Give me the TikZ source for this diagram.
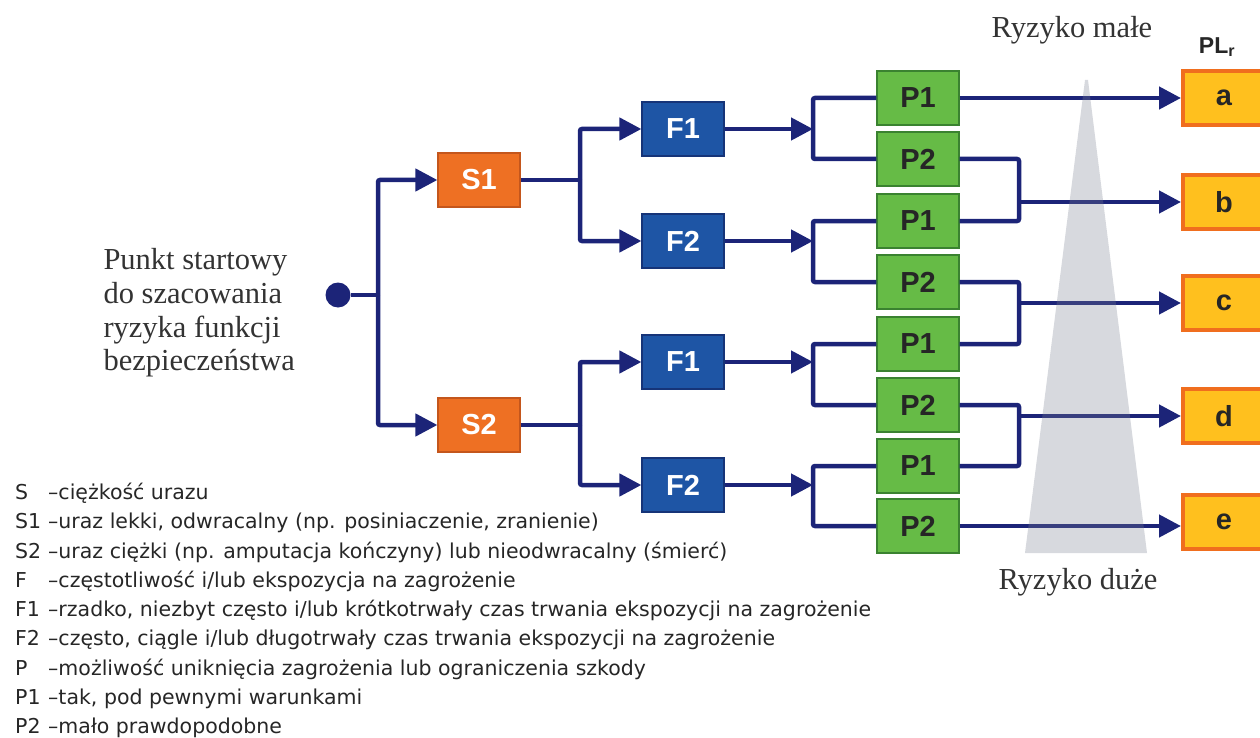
\documentclass[tikz,border=0pt]{standalone}
\usepackage{fontspec}
\setmainfont{Liberation Serif}
\setsansfont{Liberation Sans}
\newfontfamily\legendfont{DejaVu Sans}
\usetikzlibrary{arrows.meta}

\definecolor{flownavy}{RGB}{28,36,120}
\definecolor{sorange}{RGB}{238,112,35}
\definecolor{sorangedark}{RGB}{196,86,28}
\definecolor{fblue}{RGB}{30,85,165}
\definecolor{fbluedark}{RGB}{22,52,120}
\definecolor{pgreen}{RGB}{102,187,70}
\definecolor{pgreendark}{RGB}{58,130,48}
\definecolor{plfill}{RGB}{255,192,30}
\definecolor{plborder}{RGB}{240,110,30}
\definecolor{riskgray}{RGB}{122,128,145}

\begin{document}
\begin{tikzpicture}[x=1pt, y=-1pt,
    flow/.style={draw=flownavy, line width=4.5pt, rounded corners=2pt},
    arr/.style={flow, -{Triangle[length=22pt,width=22pt]}},
    box/.style={draw, line width=1.2pt, minimum width=82pt, minimum height=54pt, inner sep=0pt,
                font=\sffamily\bfseries\fontsize{29}{30}\selectfont},
    sbox/.style={box, fill=sorange, draw=sorangedark, text=white},
    fbox/.style={box, fill=fblue, draw=fbluedark, text=white},
    pbox/.style={box, fill=pgreen, draw=pgreendark, text=black!85},
    plbox/.style={box, fill=plfill, draw=plborder, line width=4pt, minimum height=54pt, text=black!85},
    risk/.style={font=\fontsize{30.5}{32}\selectfont, text=black!80}]
    \useasboundingbox (0,0) rectangle (1260,738);

    % start point and text
    \node[circle, fill=flownavy, minimum size=25pt, inner sep=0pt] (start) at (338,295) {};
    \node[anchor=west, align=left, text=black!80, font=\fontsize{30.5}{33.7}\selectfont] (starttext) at (100,313)
        {Punkt startowy\\do szacowania\\ryzyka funkcji\\bezpieczeństwa};
    \coordinate (sj) at (378,295);

    % severity
    \node[sbox] (S1) at (479,180) {S1};
    \node[sbox] (S2) at (479,425) {S2};
    \coordinate (s1j) at (580,180);
    \coordinate (s2j) at (580,425);

    % frequency
    \node[fbox] (F1a) at (683,129) {F1};
    \node[fbox] (F2a) at (683,241) {F2};
    \node[fbox] (F1b) at (683,362) {F1};
    \node[fbox] (F2b) at (683,485) {F2};
    \coordinate (t1) at (813,129);
    \coordinate (t2) at (813,241);
    \coordinate (t3) at (813,362);
    \coordinate (t4) at (813,485);

    % possibility of avoidance
    \node[pbox] (P1a) at (918,98) {P1};
    \node[pbox] (P2a) at (918,159) {P2};
    \node[pbox] (P1b) at (918,221) {P1};
    \node[pbox] (P2b) at (918,282) {P2};
    \node[pbox] (P1c) at (918,344) {P1};
    \node[pbox] (P2c) at (918,405) {P2};
    \node[pbox] (P1d) at (918,466) {P1};
    \node[pbox] (P2d) at (918,526) {P2};
    \coordinate (m1) at (1019,202);
    \coordinate (m2) at (1019,303);
    \coordinate (m3) at (1019,416);

    % required performance levels
    \node[plbox] (a) at (1224,98) {a};
    \node[plbox] (b) at (1224,202) {b};
    \node[plbox] (c) at (1224,303) {c};
    \node[plbox] (d) at (1224,416) {d};
    \node[plbox] (e) at (1224,522) {e};
    \node[font=\sffamily\bfseries\fontsize{23}{24}\selectfont, text=black!85] (plr) at (1217,47) {PL\textsubscript{r}};

    % connectors
    \draw[flow] (start) -- (sj);
    \draw[arr] (sj) |- (S1);
    \draw[arr] (sj) |- (S2);
    \draw[flow] (S1) -- (s1j);
    \draw[flow] (S2) -- (s2j);
    \draw[arr] (s1j) |- (F1a);
    \draw[arr] (s1j) |- (F2a);
    \draw[arr] (s2j) |- (F1b);
    \draw[arr] (s2j) |- (F2b);
    \draw[arr] (F1a) -- (t1);
    \draw[arr] (F2a) -- (t2);
    \draw[arr] (F1b) -- (t3);
    \draw[arr] (F2b) -- (t4);
    \draw[flow] (P1a.west) -| (t1) |- (P2a.west);
    \draw[flow] (P1b.west) -| (t2) |- (P2b.west);
    \draw[flow] (P1c.west) -| (t3) |- (P2c.west);
    \draw[flow] (P1d.west) -| (t4) |- (P2d.west);
    \draw[flow] (P2a.east) -| (m1) |- (P1b.east);
    \draw[flow] (P2b.east) -| (m2) |- (P1c.east);
    \draw[flow] (P2c.east) -| (m3) |- (P1d.east);
    \draw[arr] (P1a.east) -- (P1a.east -| a.west);
    \draw[arr] (m1) -- (b);
    \draw[arr] (m2) -- (c);
    \draw[arr] (m3) -- (d);
    \draw[arr] (P2d.east) -- (P2d.east -| e.west);

    % risk wedge
    \fill[riskgray, fill opacity=0.3] (1085,80) -- (1088,80) -- (1147,553) -- (1025,553) -- cycle;
    \node[risk] (lowrisk) at (1072,30) {Ryzyko małe};
    \node[risk] (highrisk) at (1078,582) {Ryzyko duże};

    % legend
    \node[anchor=north west, inner sep=0pt, text=black!85,
          font=\legendfont\fontsize{20.5}{29.25}\selectfont] (legend) at (15,479) {%
        \begin{tabular}{@{}l@{\hspace{7pt}}l@{}}
        S  & –ciężkość urazu\\
        S1 & –uraz lekki, odwracalny (np. posiniaczenie, zranienie)\\
        S2 & –uraz ciężki (np. amputacja kończyny) lub nieodwracalny (śmierć)\\
        F  & –częstotliwość i/lub ekspozycja na zagrożenie\\
        F1 & –rzadko, niezbyt często i/lub krótkotrwały czas trwania ekspozycji na zagrożenie\\
        F2 & –często, ciągle i/lub długotrwały czas trwania ekspozycji na zagrożenie\\
        P  & –możliwość uniknięcia zagrożenia lub ograniczenia szkody\\
        P1 & –tak, pod pewnymi warunkami\\
        P2 & –mało prawdopodobne
        \end{tabular}};
\end{tikzpicture}
\end{document}
